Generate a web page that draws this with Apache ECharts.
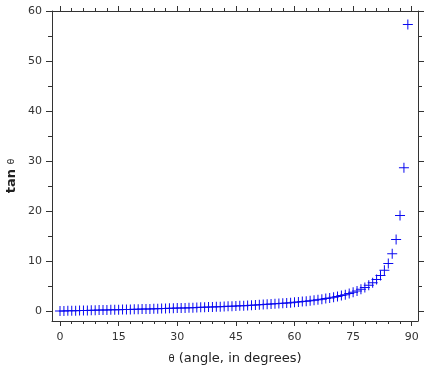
<!DOCTYPE html>
<html>
<head>
<meta charset="utf-8">
<script src="https://cdn.jsdelivr.net/npm/echarts@6/dist/echarts.min.js"></script>
<style>
html,body{margin:0;padding:0;background:#fff;}
#chart{width:432px;height:371px;}
</style>
</head>
<body>
<div id="chart"></div>
<script>
// Data
const angles = [0,1,2,3,4,5,6,7,8,9,10,11,12,13,14,15,16,17,18,19,20,21,22,23,24,25,26,27,28,29,30,31,32,33,34,35,36,37,38,39,40,41,42,43,44,45,46,47,48,49,50,51,52,53,54,55,56,57,58,59,60,61,62,63,64,65,66,67,68,69,70,71,72,73,74,75,76,77,78,79,80,81,82,83,84,85,86,87,88,89];
const tanValues = [0,0.0175,0.0349,0.0524,0.0699,0.0875,0.1051,0.1228,0.1405,0.1584,0.1763,0.1944,0.2126,0.2309,0.2493,0.2679,0.2867,0.3057,0.3249,0.3443,0.3640,0.3839,0.4040,0.4245,0.4452,0.4663,0.4877,0.5095,0.5317,0.5543,0.5774,0.6009,0.6249,0.6494,0.6745,0.7002,0.7265,0.7536,0.7813,0.8098,0.8391,0.8693,0.9004,0.9325,0.9657,1.0000,1.0355,1.0724,1.1106,1.1504,1.1918,1.2349,1.2799,1.3270,1.3764,1.4281,1.4826,1.5399,1.6003,1.6643,1.7321,1.8040,1.8807,1.9626,2.0503,2.1445,2.2460,2.3559,2.4751,2.6051,2.7475,2.9042,3.0777,3.2709,3.4874,3.7321,4.0108,4.3315,4.7046,5.1446,5.6713,6.3138,7.1154,8.1443,9.5144,11.4301,14.3007,19.0811,28.6363,57.2900];
const xMajorTicks = [0,15,30,45,60,75,90];
const xMinorTicks = [3,6,9,12,18,21,24,27,33,36,39,42,48,51,54,57,63,66,69,72,78,81,84,87];
const yMajorTicks = [0,10,20,30,40,50,60];
const yMinorTicks = [5,15,25,35,45,55];

const axisColor = '#333';
const textColor = '#333';
const font = 'DejaVu Sans, Verdana, sans-serif';

function xAx(pos, ticks, len, labels, line) {
  return {
    type: 'value', position: pos, min: -2.05, max: 91.6,
    axisLine: {show: line, onZero: false, lineStyle: {color: axisColor, width: 1}},
    axisTick: {show: true, inside: false, length: len, customValues: ticks, lineStyle: {color: axisColor, width: 1}},
    axisLabel: labels ? {show: true, customValues: ticks, color: textColor, fontFamily: font, fontSize: 11, margin: 11} : {show: false},
    splitLine: {show: false}
  };
}
function yAx(pos, ticks, len, labels, line) {
  return {
    type: 'value', position: pos, min: -2, max: 60,
    axisLine: {show: line, onZero: false, lineStyle: {color: axisColor, width: 1}},
    axisTick: {show: true, inside: false, length: len, customValues: ticks, lineStyle: {color: axisColor, width: 1}},
    axisLabel: labels ? {show: true, customValues: ticks, color: textColor, fontFamily: font, fontSize: 11, margin: 10} : {show: false},
    splitLine: {show: false}
  };
}

const chart = echarts.init(document.getElementById('chart'), null, {renderer: 'canvas'});
chart.setOption({
  animation: false,
  backgroundColor: '#fff',
  grid: {left: 52, right: 14, top: 11, bottom: 50, containLabel: false},
  xAxis: [
    xAx('bottom', xMajorTicks, 5, true, true),
    xAx('bottom', xMinorTicks, 3, false, false),
    xAx('top', xMajorTicks, 5, false, true),
    xAx('top', xMinorTicks, 3, false, false)
  ],
  yAxis: [
    yAx('left', yMajorTicks, 6, true, true),
    yAx('left', yMinorTicks, 4, false, false),
    yAx('right', yMajorTicks, 6, false, true),
    yAx('right', yMinorTicks, 4, false, false)
  ],
  graphic: [
    {
      type: 'text', x: 235, y: 359,
      style: {
        text: '{t|θ} (angle, in degrees)',
        rich: {t: {fontSize: 10, fontFamily: font, fill: '#222'}},
        fontSize: 13, fontFamily: font, fill: '#222',
        align: 'center', verticalAlign: 'middle'
      }
    },
    {
      type: 'text', x: 12, y: 176, rotation: Math.PI / 2,
      style: {
        text: 'tan {t|θ}',
        rich: {t: {fontSize: 9, fontWeight: 'normal', fontFamily: font, fill: '#222'}},
        fontSize: 13, fontWeight: 'bold', fontFamily: font, fill: '#222',
        align: 'center', verticalAlign: 'middle'
      }
    }
  ],
  series: [{
    type: 'scatter',
    xAxisIndex: 0, yAxisIndex: 0,
    symbol: 'path://M4.5,0h1v10h-1zM0,4.5h10v1h-10z',
    symbolSize: 10,
    itemStyle: {color: '#0a0af0', opacity: 1},
    data: angles.map((a, i) => [a, tanValues[i]])
  }]
});
</script>
</body>
</html>
